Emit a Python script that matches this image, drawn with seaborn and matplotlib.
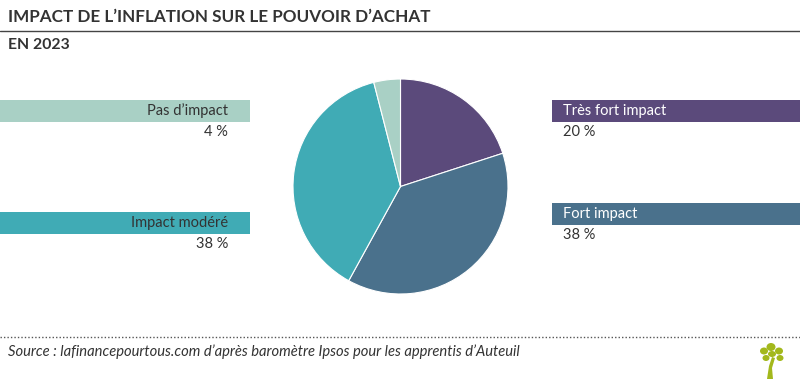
import matplotlib
matplotlib.use("Agg")
import matplotlib.pyplot as plt
import seaborn as sns
from matplotlib.patches import Rectangle, Ellipse, Polygon

categories = ["Très fort impact", "Fort impact", "Impact modéré", "Pas d’impact"]
values = [20, 38, 38, 4]
value_labels = ["20 %", "38 %", "38 %", "4 %"]
colors = ["#5b4a7b", "#4a718c", "#40abb5", "#a9d0c5"]

title = "IMPACT DE L’INFLATION SUR LE POUVOIR D’ACHAT"
subtitle = "EN 2023"
source = "Source : lafinancepourtous.com d’après baromètre Ipsos pour les apprentis d’Auteuil"

sns.set_theme(style="white")
plt.rcParams['font.family'] = ['Lato', 'DejaVu Sans']

W, H = 800, 379
fig = plt.figure(figsize=(W / 100, H / 100), dpi=100)
bg = fig.add_axes([0, 0, 1, 1])
bg.set_xlim(0, W)
bg.set_ylim(H, 0)
bg.axis("off")

# Title
bg.text(8, 17, title, fontsize=12.3, fontweight="bold", color="#333333", va="center", ha="left")
bg.plot([0, W], [31, 31], color="#444444", lw=1)
bg.text(8, 45, subtitle, fontsize=11.3, fontweight="bold", color="#333333", va="center", ha="left")

# Pie
cx, cy, r = 400.5, 186.5, 107.5
pax = fig.add_axes([(cx - r) / W, (H - cy - r) / H, 2 * r / W, 2 * r / H])
pax.pie(values, colors=colors, startangle=90, counterclock=False,
        wedgeprops=dict(linewidth=0.8, edgecolor="white"))
pax.set_xlim(-1.0, 1.0)
pax.set_ylim(-1.0, 1.0)
pax.set_aspect("equal")
pax.axis("off")

# Label bars: (index, side, bar top y)
layout = [(0, "right", 100), (1, "right", 203), (2, "left", 212), (3, "left", 100)]
for idx, side, y in layout:
    if side == "right":
        bg.add_patch(Rectangle((552, y), W - 552, 22, color=colors[idx], lw=0))
        bg.text(563, y + 11, categories[idx], fontsize=10.5, color="white", va="center", ha="left")
        bg.text(563, y + 32, value_labels[idx], fontsize=10.5, color="#333333", va="center", ha="left")
    else:
        bg.add_patch(Rectangle((0, y), 250, 22, color=colors[idx], lw=0))
        bg.text(228, y + 11, categories[idx], fontsize=10.5, color="#333333", va="center", ha="right")
        bg.text(228, y + 32, value_labels[idx], fontsize=10.5, color="#333333", va="center", ha="right")

# Footer
bg.plot([0, W], [337, 337], color="#555555", lw=1, ls=(0, (1, 1.5)))
bg.text(8, 352, source, fontsize=10.6, style="italic", color="#333333", va="center", ha="left")

# Tree logo
green = "#a3b81c"
bg.add_patch(Polygon([[767, 379], [773, 379], [772, 368], [775, 358], [772, 357], [769, 366]],
                     color=green, lw=0))
for (x, y, w, h) in [(771, 347, 9, 8), (764, 351, 8, 7), (779, 351, 8, 7),
                     (766, 358, 7, 6), (780, 358, 7, 6), (772, 354, 8, 6)]:
    bg.add_patch(Ellipse((x, y), w, h, color=green, lw=0))

fig.savefig("out.png", dpi=100)
